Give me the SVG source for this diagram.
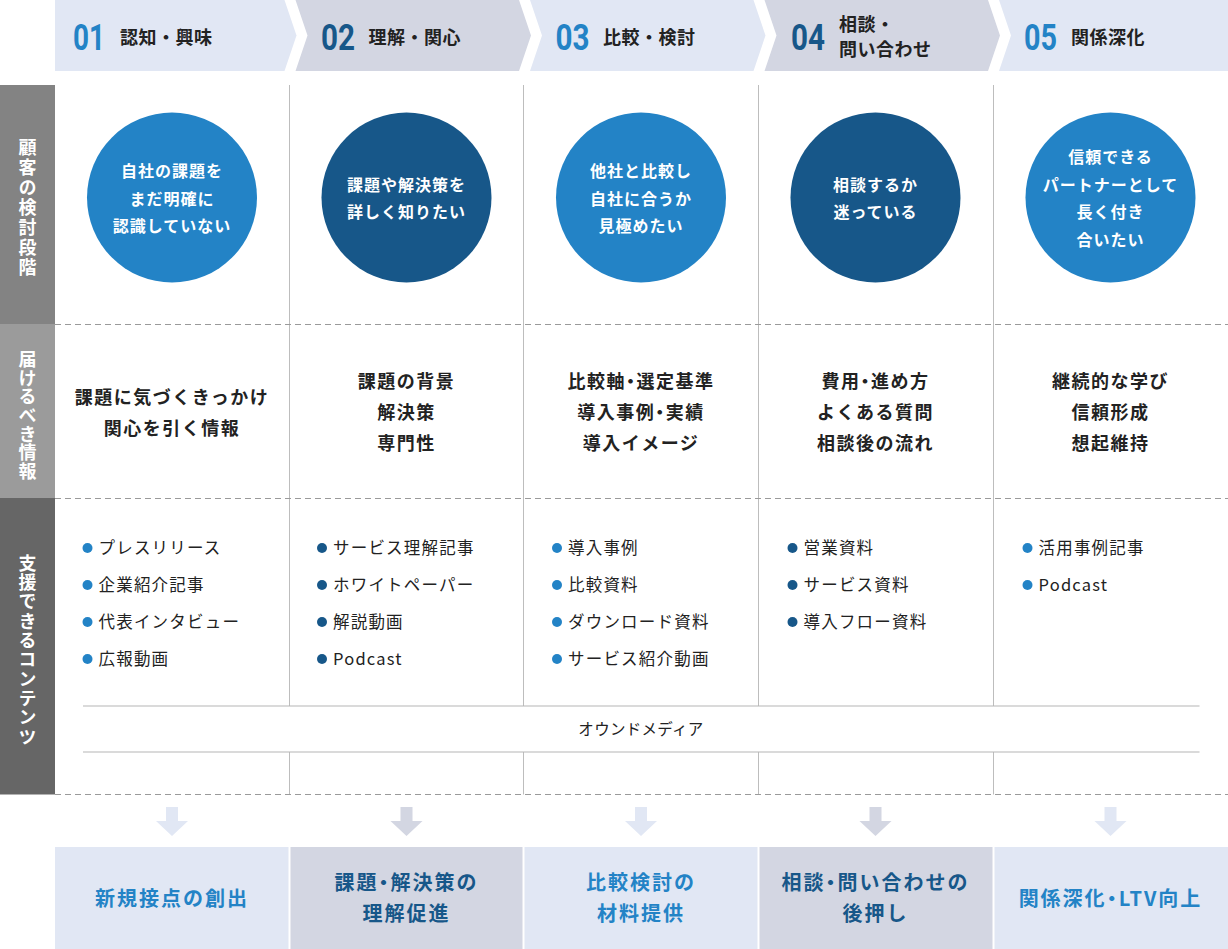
<svg xmlns="http://www.w3.org/2000/svg" width="1228" height="949" viewBox="0 0 1228 949">
<style>
text{font-family:"Noto Sans CJK JP","Noto Sans",sans-serif;}
.pl{fill:#e1e7f4;}
.pg{fill:#d3d6e2;}
.num{font-family:Roboto,"Liberation Sans",sans-serif;font-weight:700;font-size:36px;}
.nb{fill:#2383c6;}
.nd{fill:#175789;}
.ttl{font-weight:700;font-size:18px;fill:#222;letter-spacing:0.5px;}
.vt{font-weight:700;font-size:18px;fill:#fff;text-anchor:middle;writing-mode:vertical-rl;}
.ct{font-weight:700;font-size:16px;fill:#fff;text-anchor:middle;letter-spacing:1px;}
.it{font-weight:700;font-size:18px;fill:#222;text-anchor:middle;letter-spacing:1.5px;}
.bt{font-size:16.5px;fill:#222;letter-spacing:1.2px;}
.om{font-size:15.5px;fill:#222;text-anchor:middle;letter-spacing:0.3px;}
.ot{font-weight:700;font-size:20px;text-anchor:middle;letter-spacing:2px;}
.hw{font-feature-settings:"halt" 1;}
.vl{stroke:#bdbdbd;stroke-width:1;fill:none;}
.dl{stroke:#9a9a9a;stroke-width:1;stroke-dasharray:6 4;fill:none;}
.hl{stroke:#b5b5b5;stroke-width:1.2;fill:none;}
</style>

<!-- header chevrons -->
<g id="stage-1">
<polygon class="pl" points="55,0 284.5,0 296.5,35.5 284.5,71 55,71"/>
<text class="num nb" x="73" y="50" textLength="32" lengthAdjust="spacingAndGlyphs">01</text>
<text class="ttl" x="120" y="43.5">認知・興味</text>
</g>
<g id="stage-2">
<polygon class="pg" points="295.5,0 519,0 531,35.5 519,71 295.5,71 307.5,35.5"/>
<text class="num nd" x="321" y="50" textLength="34" lengthAdjust="spacingAndGlyphs">02</text>
<text class="ttl" x="368.5" y="43.5">理解・関心</text>
</g>
<g id="stage-3">
<polygon class="pl" points="530,0 753.5,0 765.5,35.5 753.5,71 530,71 542,35.5"/>
<text class="num nb" x="555.5" y="50" textLength="34" lengthAdjust="spacingAndGlyphs">03</text>
<text class="ttl" x="603" y="43.5">比較・検討</text>
</g>
<g id="stage-4">
<polygon class="pg" points="764.5,0 988,0 1000,35.5 988,71 764.5,71 776.5,35.5"/>
<text class="num nd" x="791" y="50" textLength="34" lengthAdjust="spacingAndGlyphs">04</text>
<text class="ttl" x="839" y="31">相談・</text>
<text class="ttl" x="839" y="55.5">問い合わせ</text>
</g>
<g id="stage-5">
<polygon class="pl" points="999,0 1228,0 1228,71 999,71 1011,35.5"/>
<text class="num nb" x="1024" y="50" textLength="33" lengthAdjust="spacingAndGlyphs">05</text>
<text class="ttl" x="1071" y="43.5">関係深化</text>
</g>

<!-- row labels -->
<g id="label-stage">
<rect x="0" y="85" width="55" height="239" fill="#838383"/>
<text class="vt" x="27.5" y="208" style="letter-spacing:2px">顧客の検討段階</text>
</g>
<g id="label-info">
<rect x="0" y="324" width="55" height="174" fill="#9b9b9b"/>
<text class="vt" x="27.5" y="415.5" style="letter-spacing:0.6px">届けるべき情報</text>
</g>
<g id="label-content">
<rect x="0" y="498" width="55" height="296.5" fill="#666666"/>
<text class="vt" x="27.5" y="650.5" style="letter-spacing:1.3px">支援できるコンテンツ</text>
</g>

<!-- grid lines -->
<g id="grid">
<path class="vl" d="M289.5,85V706M523.5,85V706M758.5,85V706M993.5,85V706M289.5,752V794.5M523.5,752V794.5M758.5,752V794.5M993.5,752V794.5"/>
<path class="dl" d="M55,324.5H1228M55,498.5H1228M55,794.5H1228"/>
</g>

<!-- circles -->
<g id="circle-1">
<circle cx="172" cy="197.5" r="85" fill="#2383c6"/>
<text class="ct"><tspan x="172" y="177">自社の課題を</tspan><tspan x="172" y="204.5">まだ明確に</tspan><tspan x="172" y="232">認識していない</tspan></text>
</g>
<g id="circle-2">
<circle cx="406.5" cy="197.5" r="85" fill="#175789"/>
<text class="ct"><tspan x="406.5" y="190.5">課題や解決策を</tspan><tspan x="406.5" y="218">詳しく知りたい</tspan></text>
</g>
<g id="circle-3">
<circle cx="641" cy="197.5" r="85" fill="#2383c6"/>
<text class="ct"><tspan x="641" y="177">他社と比較し</tspan><tspan x="641" y="204.5">自社に合うか</tspan><tspan x="641" y="232">見極めたい</tspan></text>
</g>
<g id="circle-4">
<circle cx="875.5" cy="197.5" r="85" fill="#175789"/>
<text class="ct"><tspan x="875.5" y="190.5">相談するか</tspan><tspan x="875.5" y="218">迷っている</tspan></text>
</g>
<g id="circle-5">
<circle cx="1110.5" cy="197.5" r="85" fill="#2383c6"/>
<text class="ct"><tspan x="1110.5" y="163">信頼できる</tspan><tspan x="1110.5" y="190.5">パートナーとして</tspan><tspan x="1110.5" y="218">長く付き</tspan><tspan x="1110.5" y="245.5">合いたい</tspan></text>
</g>

<!-- info to deliver -->
<g id="info-1">
<text class="it"><tspan x="172" y="403.5">課題に気づくきっかけ</tspan><tspan x="172" y="434.5">関心を引く情報</tspan></text>
</g>
<g id="info-2">
<text class="it"><tspan x="406.5" y="388">課題の背景</tspan><tspan x="406.5" y="419">解決策</tspan><tspan x="406.5" y="450">専門性</tspan></text>
</g>
<g id="info-3">
<text class="it"><tspan x="641" y="388">比較軸<tspan class="hw">・</tspan>選定基準</tspan><tspan x="641" y="419">導入事例<tspan class="hw">・</tspan>実績</tspan><tspan x="641" y="450">導入イメージ</tspan></text>
</g>
<g id="info-4">
<text class="it"><tspan x="875.5" y="388">費用<tspan class="hw">・</tspan>進め方</tspan><tspan x="875.5" y="419">よくある質問</tspan><tspan x="875.5" y="450">相談後の流れ</tspan></text>
</g>
<g id="info-5">
<text class="it"><tspan x="1110.5" y="388">継続的な学び</tspan><tspan x="1110.5" y="419">信頼形成</tspan><tspan x="1110.5" y="450">想起維持</tspan></text>
</g>

<!-- content lists -->
<g id="content-1">
<g fill="#2383c6"><circle cx="87.5" cy="548" r="5"/><circle cx="87.5" cy="585" r="5"/><circle cx="87.5" cy="622" r="5"/><circle cx="87.5" cy="659" r="5"/></g>
<text class="bt"><tspan x="98.5" y="554">プレスリリース</tspan><tspan x="98.5" y="591">企業紹介記事</tspan><tspan x="98.5" y="628">代表インタビュー</tspan><tspan x="98.5" y="665">広報動画</tspan></text>
</g>
<g id="content-2">
<g fill="#175789"><circle cx="322" cy="548" r="5"/><circle cx="322" cy="585" r="5"/><circle cx="322" cy="622" r="5"/><circle cx="322" cy="659" r="5"/></g>
<text class="bt"><tspan x="333" y="554">サービス理解記事</tspan><tspan x="333" y="591">ホワイトペーパー</tspan><tspan x="333" y="628">解説動画</tspan><tspan x="333" y="665">Podcast</tspan></text>
</g>
<g id="content-3">
<g fill="#2383c6"><circle cx="557" cy="548" r="5"/><circle cx="557" cy="585" r="5"/><circle cx="557" cy="622" r="5"/><circle cx="557" cy="659" r="5"/></g>
<text class="bt"><tspan x="568" y="554">導入事例</tspan><tspan x="568" y="591">比較資料</tspan><tspan x="568" y="628">ダウンロード資料</tspan><tspan x="568" y="665">サービス紹介動画</tspan></text>
</g>
<g id="content-4">
<g fill="#175789"><circle cx="792.5" cy="548" r="5"/><circle cx="792.5" cy="585" r="5"/><circle cx="792.5" cy="622" r="5"/></g>
<text class="bt"><tspan x="803.5" y="554">営業資料</tspan><tspan x="803.5" y="591">サービス資料</tspan><tspan x="803.5" y="628">導入フロー資料</tspan></text>
</g>
<g id="content-5">
<g fill="#2383c6"><circle cx="1027.5" cy="548" r="5"/><circle cx="1027.5" cy="585" r="5"/></g>
<text class="bt"><tspan x="1038.5" y="554">活用事例記事</tspan><tspan x="1038.5" y="591">Podcast</tspan></text>
</g>

<!-- owned media band -->
<g id="owned-media">
<path class="hl" d="M83,706H1199.5M83,752H1199.5"/>
<text class="om" x="641" y="734.5">オウンドメディア</text>
</g>

<!-- connectors -->
<g id="connectors">
<polygon class="pl" points="166,807 178,807 178,821 188,821 172,836 156,821 166,821"/>
<polygon class="pg" points="400.5,807 412.5,807 412.5,821 422.5,821 406.5,836 390.5,821 400.5,821"/>
<polygon class="pl" points="635,807 647,807 647,821 657,821 641,836 625,821 635,821"/>
<polygon class="pg" points="869.5,807 881.5,807 881.5,821 891.5,821 875.5,836 859.5,821 869.5,821"/>
<polygon class="pl" points="1104.5,807 1116.5,807 1116.5,821 1126.5,821 1110.5,836 1094.5,821 1104.5,821"/>
</g>

<!-- outcomes -->
<g id="outcome-1">
<rect class="pl" x="55" y="847" width="233.5" height="102"/>
<text class="ot nb" x="172" y="905.5">新規接点の創出</text>
</g>
<g id="outcome-2">
<rect class="pg" x="290.5" y="847" width="232" height="102"/>
<text class="ot nd"><tspan x="406.5" y="889.5">課題<tspan class="hw">・</tspan>解決策の</tspan><tspan x="406.5" y="921">理解促進</tspan></text>
</g>
<g id="outcome-3">
<rect class="pl" x="524.5" y="847" width="233" height="102"/>
<text class="ot nb"><tspan x="641" y="889.5">比較検討の</tspan><tspan x="641" y="921">材料提供</tspan></text>
</g>
<g id="outcome-4">
<rect class="pg" x="759.5" y="847" width="233" height="102"/>
<text class="ot nd"><tspan x="875.5" y="889.5">相談<tspan class="hw">・</tspan>問い合わせの</tspan><tspan x="875.5" y="921">後押し</tspan></text>
</g>
<g id="outcome-5">
<rect class="pl" x="994.5" y="847" width="233.5" height="102"/>
<text class="ot nb" x="1110.5" y="905.5">関係深化<tspan class="hw">・</tspan>LTV向上</text>
</g>
</svg>
